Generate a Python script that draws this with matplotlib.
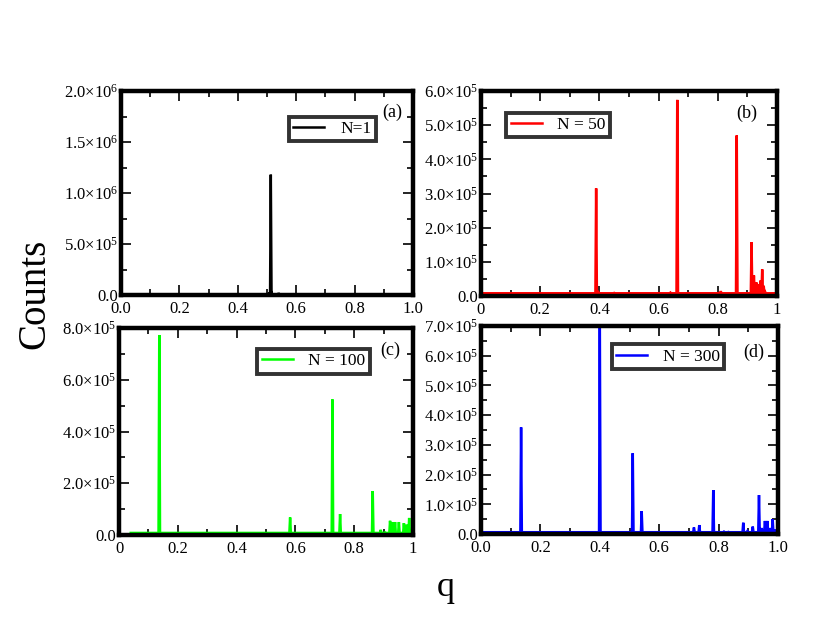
import matplotlib
matplotlib.use("Agg")
import matplotlib.pyplot as plt
import numpy as np
from matplotlib.ticker import FixedLocator, FuncFormatter, MultipleLocator

plt.rcParams['font.family'] = ['Liberation Serif', 'DejaVu Serif']
plt.rcParams['mathtext.fontset'] = 'stix'

# ---- data: peak positions (q) and heights (counts) ----
qa = [0.505, 0.508, 0.513, 0.517, 0.540]
ca = [8e3, 2.0e4, 1.18e6, 1.5e4, 2.0e4]
base_a = 0.0

qb = [0.389, 0.395, 0.45, 0.64, 0.663, 0.81, 0.864, 0.914, 0.918, 0.922, 0.926,
      0.930, 0.935, 0.940, 0.944, 0.950, 0.955, 0.960]
cb = [3.15e5, 1.5e4, 9e3, 1.0e4, 5.74e5, 1.4e4, 4.70e5, 1.58e5, 4.0e4, 6.0e4, 3.0e4,
      4.0e4, 2.5e4, 3.5e4, 4.5e4, 7.8e4, 3.0e4, 1.2e4]
base_b = 8e3

qc = [0.137, 0.582, 0.726, 0.752, 0.863, 0.890, 0.905, 0.922, 0.930, 0.939,
      0.952, 0.969, 0.978, 0.987]
cc = [7.73e5, 6.8e4, 5.24e5, 8.1e4, 1.70e5, 2.0e4, 1.0e4, 5.5e4, 5.0e4, 5.0e4,
      5.0e4, 4.6e4, 4.0e4, 6.6e4]
base_c = 8e3

qd = [0.135, 0.400, 0.511, 0.541, 0.717, 0.735, 0.782, 0.818, 0.833, 0.883, 0.897,
      0.915, 0.936, 0.945, 0.956, 0.960, 0.964, 0.973, 0.982, 0.992]
cd = [3.59e5, 7.3e5, 2.72e5, 7.7e4, 2.2e4, 3.0e4, 1.48e5, 8e3, 7e3, 3.8e4, 1.0e4,
      2.5e4, 1.31e5, 2.0e4, 4.4e4, -2.0e4, 4.4e4, 2.0e4, 5.0e4, 1.5e4]
base_d = 6e3

labels = ["N=1", "N = 50", "N = 100", "N = 300"]
tags = ["(a)", "(b)", "(c)", "(d)"]
colors = ["black", "#ff0000", "#00ff00", "#0000ff"]
ymax = [2.0e6, 6.0e5, 8.0e5, 7.0e5]
ymajor = [5e5, 1e5, 2e5, 1e5]
xstart = [0.0, 0.0, 0.04, 0.0]
xticklab = [["0.0", "0.2", "0.4", "0.6", "0.8", "1.0"],
            ["0", "0.2", "0.4", "0.6", "0.8", "1"],
            ["0", "0.2", "0.4", "0.6", "0.8", "1"],
            ["0.0", "0.2", "0.4", "0.6", "0.8", "1.0"]]
xticks = [0.0, 0.2, 0.4, 0.6, 0.8, 1.0]


def spike_series(q, c, base, x0, width=0.0025):
    xs, ys = [x0], [base]
    for qi, ci in sorted(zip(q, c)):
        xs += [qi - width, qi, qi + width]
        ys += [base, ci, base]
    xs.append(1.0)
    ys.append(base)
    return np.array(xs), np.array(ys)


def yfmt(v, pos):
    if v < -1:
        return ""
    if abs(v) < 1:
        return "0.0"
    e = int(np.floor(np.log10(v) + 1e-9))
    m = v / 10 ** e
    return r"$\mathregular{%.1f{\times}10^{%d}}$" % (m, e)


fig = plt.figure(figsize=(8.17, 6.32), dpi=100)
rects = [
    [121 / 817, 1 - 295 / 632, (413 - 121) / 817, (295 - 91) / 632],
    [481 / 817, 1 - 296 / 632, (777 - 481) / 817, (296 - 91) / 632],
    [119 / 817, 1 - 535 / 632, (413 - 119) / 817, (535 - 328) / 632],
    [481 / 817, 1 - 534 / 632, (778 - 481) / 817, (534 - 326) / 632],
]
data = [(qa, ca, base_a), (qb, cb, base_b), (qc, cc, base_c), (qd, cd, base_d)]
legend_pos = [(0.575, 0.875), (0.085, 0.895), (0.47, 0.9), (0.44, 0.913)]
tag_pos = [(0.93, 0.897), (0.899, 0.893), (0.922, 0.894), (0.919, 0.875)]

for i in range(4):
    ax = fig.add_axes(rects[i])
    q, c, base = data[i]
    xs, ys = spike_series(q, c, base, xstart[i])
    ax.plot(xs, ys, color=colors[i], lw=1.8, label=labels[i], solid_joinstyle='miter')
    ax.set_xlim(0, 1)
    ax.set_ylim(0, ymax[i])
    ax.xaxis.set_major_locator(FixedLocator(xticks))
    ax.set_xticklabels(xticklab[i])
    ax.xaxis.set_minor_locator(MultipleLocator(0.1))
    ax.yaxis.set_major_locator(MultipleLocator(ymajor[i]))
    ax.yaxis.set_minor_locator(MultipleLocator(ymajor[i] / 2))
    ax.yaxis.set_major_formatter(FuncFormatter(yfmt))
    ax.tick_params(which='both', direction='in', top=True, right=True,
                   labelsize=12, width=1.2, pad=2)
    ax.tick_params(axis='x', which='major', pad=4)
    ax.tick_params(which='major', length=7)
    ax.tick_params(which='minor', length=4)
    for sp in ax.spines.values():
        sp.set_linewidth(3.2)
    leg = ax.legend(loc='upper left', bbox_to_anchor=legend_pos[i], fontsize=12.5,
                    frameon=True, fancybox=False, handlelength=1.8,
                    borderpad=0.25, handletextpad=0.9, borderaxespad=0)
    leg.get_frame().set_edgecolor('black')
    leg.get_frame().set_linewidth(2.8)
    ax.text(tag_pos[i][0], tag_pos[i][1], tags[i], transform=ax.transAxes,
            ha='center', va='center', fontsize=13)

fig.text(0.043, 0.535, "Counts", rotation=90, ha='center', va='center', fontsize=28)
fig.text(0.545, 0.07, "q", ha='center', va='center', fontsize=26)

fig.savefig("out.png", dpi=100)
